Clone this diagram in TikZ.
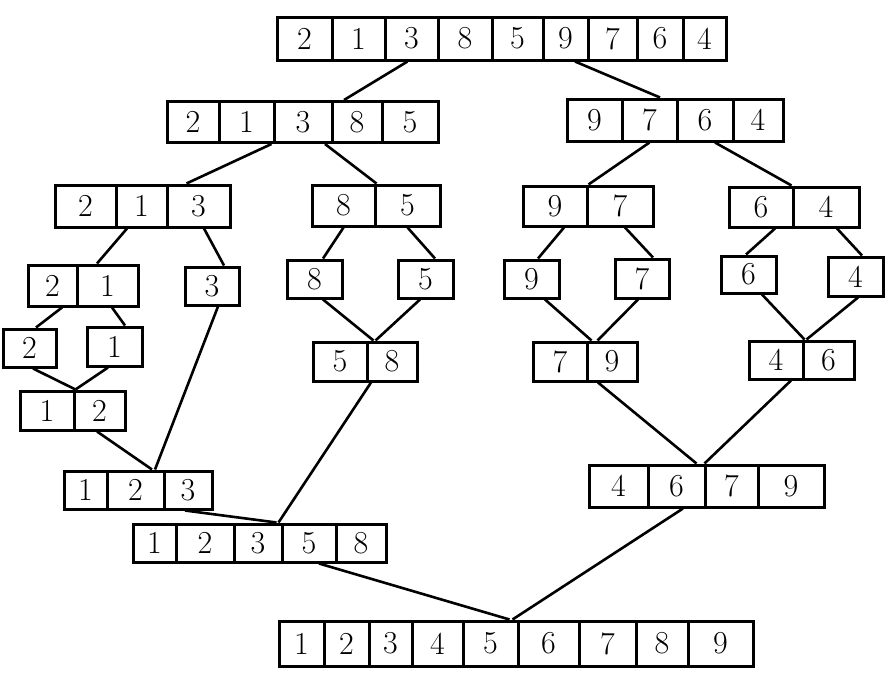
\documentclass[tikz,border=0pt]{standalone}
\tikzset{
  cell/.style={draw, line width=3pt, inner sep=0pt, font=\fontsize{32}{32}\selectfont},
  link/.style={line width=2.6pt}
}
\begin{document}
\begin{tikzpicture}[x=1pt, y=-1pt]
    \useasboundingbox (0,0) rectangle (896,680);
    % input row
    \node [cell, minimum width=55pt, minimum height=43pt] (in1) at (304.5, 38.5) {2};
    \node [cell, minimum width=53pt, minimum height=43pt] (in2) at (358.5, 38.5) {1};
    \node [cell, minimum width=53pt, minimum height=43pt] (in3) at (411.5, 38.5) {3};
    \node [cell, minimum width=54pt, minimum height=43pt] (in4) at (465, 38.5) {8};
    \node [cell, minimum width=51pt, minimum height=43pt] (in5) at (517.5, 38.5) {5};
    \node [cell, minimum width=45pt, minimum height=43pt] (in6) at (565.5, 38.5) {9};
    \node [cell, minimum width=49pt, minimum height=43pt] (in7) at (612.5, 38.5) {7};
    \node [cell, minimum width=46pt, minimum height=43pt] (in8) at (660, 38.5) {6};
    \node [cell, minimum width=43pt, minimum height=43pt] (in9) at (704.5, 38.5) {4};
    % first split
    \node [cell, minimum width=52pt, minimum height=41pt] (lft1) at (193, 122) {2};
    \node [cell, minimum width=55pt, minimum height=41pt] (lft2) at (246.5, 122) {1};
    \node [cell, minimum width=58pt, minimum height=41pt] (lft3) at (303, 122) {3};
    \node [cell, minimum width=50pt, minimum height=41pt] (lft4) at (357, 122) {8};
    \node [cell, minimum width=56pt, minimum height=41pt] (lft5) at (410, 122) {5};
    \node [cell, minimum width=55pt, minimum height=42pt] (rgt1) at (594.5, 120) {9};
    \node [cell, minimum width=55pt, minimum height=42pt] (rgt2) at (649.5, 120) {7};
    \node [cell, minimum width=56pt, minimum height=42pt] (rgt3) at (705, 120) {6};
    \node [cell, minimum width=50pt, minimum height=42pt] (rgt4) at (758, 120) {4};
    % second split
    \node [cell, minimum width=61pt, minimum height=42pt] (ll1) at (85.5, 206) {2};
    \node [cell, minimum width=51pt, minimum height=42pt] (ll2) at (141.5, 206) {1};
    \node [cell, minimum width=63pt, minimum height=42pt] (ll3) at (198.5, 206) {3};
    \node [cell, minimum width=63pt, minimum height=41pt] (lr1) at (343.5, 205.5) {8};
    \node [cell, minimum width=65pt, minimum height=41pt] (lr2) at (407.5, 205.5) {5};
    \node [cell, minimum width=64pt, minimum height=40pt] (rl1) at (555, 206) {9};
    \node [cell, minimum width=66pt, minimum height=40pt] (rl2) at (620, 206) {7};
    \node [cell, minimum width=64pt, minimum height=40pt] (rr1) at (761, 207) {6};
    \node [cell, minimum width=66pt, minimum height=40pt] (rr2) at (826, 207) {4};
    % third split
    \node [cell, minimum width=49pt, minimum height=41pt] (lll1) at (52.5, 285.5) {2};
    \node [cell, minimum width=61pt, minimum height=41pt] (lll2) at (107.5, 285.5) {1};
    \node [cell, minimum width=54pt, minimum height=38pt] (three) at (212, 286) {3};
    \node [cell, minimum width=55pt, minimum height=38pt] (eight) at (314.5, 279) {8};
    \node [cell, minimum width=55pt, minimum height=38pt] (five) at (425.5, 279) {5};
    \node [cell, minimum width=55pt, minimum height=38pt] (nine) at (531.5, 279) {9};
    \node [cell, minimum width=54pt, minimum height=39pt] (seven) at (642, 278.5) {7};
    \node [cell, minimum width=55pt, minimum height=37pt] (six) at (748.5, 274.5) {6};
    \node [cell, minimum width=55pt, minimum height=39pt] (four) at (855.5, 276.5) {4};
    \node [cell, minimum width=53pt, minimum height=38pt] (two) at (29.5, 348) {2};
    \node [cell, minimum width=55pt, minimum height=39pt] (one) at (114.5, 346.5) {1};
    % merged pairs
    \node [cell, minimum width=54pt, minimum height=39pt] (mA1) at (47, 410.5) {1};
    \node [cell, minimum width=51pt, minimum height=39pt] (mA2) at (99.5, 410.5) {2};
    \node [cell, minimum width=54pt, minimum height=39pt] (mB1) at (340, 361.5) {5};
    \node [cell, minimum width=50pt, minimum height=39pt] (mB2) at (392, 361.5) {8};
    \node [cell, minimum width=54pt, minimum height=39pt] (mC1) at (560, 361.5) {7};
    \node [cell, minimum width=50pt, minimum height=39pt] (mC2) at (612, 361.5) {9};
    \node [cell, minimum width=54pt, minimum height=38pt] (mD1) at (776, 360) {4};
    \node [cell, minimum width=51pt, minimum height=38pt] (mD2) at (828.5, 360) {6};
    % merged triples and more
    \node [cell, minimum width=43pt, minimum height=38pt] (mE1) at (85.5, 490) {1};
    \node [cell, minimum width=57pt, minimum height=38pt] (mE2) at (135.5, 490) {2};
    \node [cell, minimum width=48pt, minimum height=38pt] (mE3) at (188, 490) {3};
    \node [cell, minimum width=59pt, minimum height=42pt] (mF1) at (618.5, 486) {4};
    \node [cell, minimum width=57pt, minimum height=42pt] (mF2) at (676.5, 486) {6};
    \node [cell, minimum width=53pt, minimum height=42pt] (mF3) at (731.5, 486) {7};
    \node [cell, minimum width=66pt, minimum height=42pt] (mF4) at (791, 486) {9};
    \node [cell, minimum width=43pt, minimum height=38pt] (mG1) at (154.5, 543) {1};
    \node [cell, minimum width=58pt, minimum height=38pt] (mG2) at (205, 543) {2};
    \node [cell, minimum width=48pt, minimum height=38pt] (mG3) at (258, 543) {3};
    \node [cell, minimum width=54pt, minimum height=38pt] (mG4) at (309, 543) {5};
    \node [cell, minimum width=50pt, minimum height=38pt] (mG5) at (361, 543) {8};
    % output row
    \node [cell, minimum width=45pt, minimum height=45pt] (out1) at (301.5, 643.5) {1};
    \node [cell, minimum width=45pt, minimum height=45pt] (out2) at (346.5, 643.5) {2};
    \node [cell, minimum width=43pt, minimum height=45pt] (out3) at (390.5, 643.5) {3};
    \node [cell, minimum width=51pt, minimum height=45pt] (out4) at (437.5, 643.5) {4};
    \node [cell, minimum width=55pt, minimum height=45pt] (out5) at (490.5, 643.5) {5};
    \node [cell, minimum width=61pt, minimum height=45pt] (out6) at (548.5, 643.5) {6};
    \node [cell, minimum width=57pt, minimum height=45pt] (out7) at (607.5, 643.5) {7};
    \node [cell, minimum width=52pt, minimum height=45pt] (out8) at (662, 643.5) {8};
    \node [cell, minimum width=65pt, minimum height=45pt] (out9) at (720.5, 643.5) {9};
    % splitting
    \draw [link] ([xshift=-4pt]in3.south) -- ([xshift=-13pt]lft4.north);
    \draw [link] ([xshift=9.5pt]in6.south) -- ([xshift=10.5pt]rgt2.north);
    \draw [link] ([xshift=25pt]lft2.south) -- ([xshift=-12pt]ll3.north);
    \draw [link] ([xshift=22pt]lft3.south) -- ([xshift=-31pt]lr2.north);
    \draw [link] (rgt2.south) -- (rl1.north east);
    \draw [link] ([xshift=10pt]rgt3.south) -- ([xshift=-3pt]rr1.north east);
    \draw [link] ([xshift=-14.5pt]ll2.south) -- ([xshift=-10.5pt]lll2.north);
    \draw [link] ([xshift=5.5pt]ll3.south) -- ([xshift=12pt]three.north);
    \draw [link] (lr1.south) -- ([xshift=8.5pt]eight.north);
    \draw [link] (lr2.south) -- ([xshift=9.5pt]five.north);
    \draw [link] ([xshift=9pt]rl1.south) -- ([xshift=6.5pt]nine.north);
    \draw [link] ([xshift=5pt]rl2.south) -- ([xshift=11pt]seven.north);
    \draw [link] ([xshift=14pt]rr1.south) -- ([xshift=-2.5pt]six.north);
    \draw [link] ([xshift=11pt]rr2.south) -- ([xshift=6.5pt]four.north);
    \draw [link] ([xshift=9.5pt]lll1.south) -- ([xshift=6.5pt]two.north);
    \draw [link] ([xshift=4.5pt]lll2.south) -- ([xshift=10.5pt]one.north);
    % merging
    \draw [link] ([xshift=3.5pt]two.south) -- (mA1.north east);
    \draw [link] ([xshift=-6.5pt]one.south) -- (mA1.north east);
    \draw [link] ([xshift=8.5pt]eight.south) -- ([xshift=5pt]mB1.north east);
    \draw [link] ([xshift=-5.5pt]five.south) -- ([xshift=7pt]mB1.north east);
    \draw [link] ([xshift=13.5pt]nine.south) -- ([xshift=3pt]mC1.north east);
    \draw [link] ([xshift=-4pt]seven.south) -- ([xshift=9pt]mC1.north east);
    \draw [link] ([xshift=13.5pt]six.south) -- (mD1.north east);
    \draw [link] ([xshift=2.5pt]four.south) -- ([xshift=2pt]mD1.north east);
    \draw [link] ([xshift=-2.5pt]mA2.south) -- ([xshift=16.5pt]mE2.north);
    \draw [link] ([xshift=6pt]three.south) -- ([xshift=19.5pt]mE2.north);
    \draw [link] ([xshift=-3pt]mE3.south) -- ([xshift=-7pt]mG3.north east);
    \draw [link] ([xshift=-21pt]mB2.south) -- ([xshift=-5pt]mG3.north east);
    \draw [link] ([xshift=-14pt]mC2.south) -- ([xshift=-10pt]mF2.north east);
    \draw [link] ([xshift=15pt]mD1.south) -- ([xshift=-2pt]mF2.north east);
    \draw [link] ([xshift=10pt]mG4.south) -- ([xshift=-10pt]out5.north east);
    \draw [link] ([xshift=6.5pt]mF2.south) -- ([xshift=-7pt]out5.north east);
\end{tikzpicture}
\end{document}
